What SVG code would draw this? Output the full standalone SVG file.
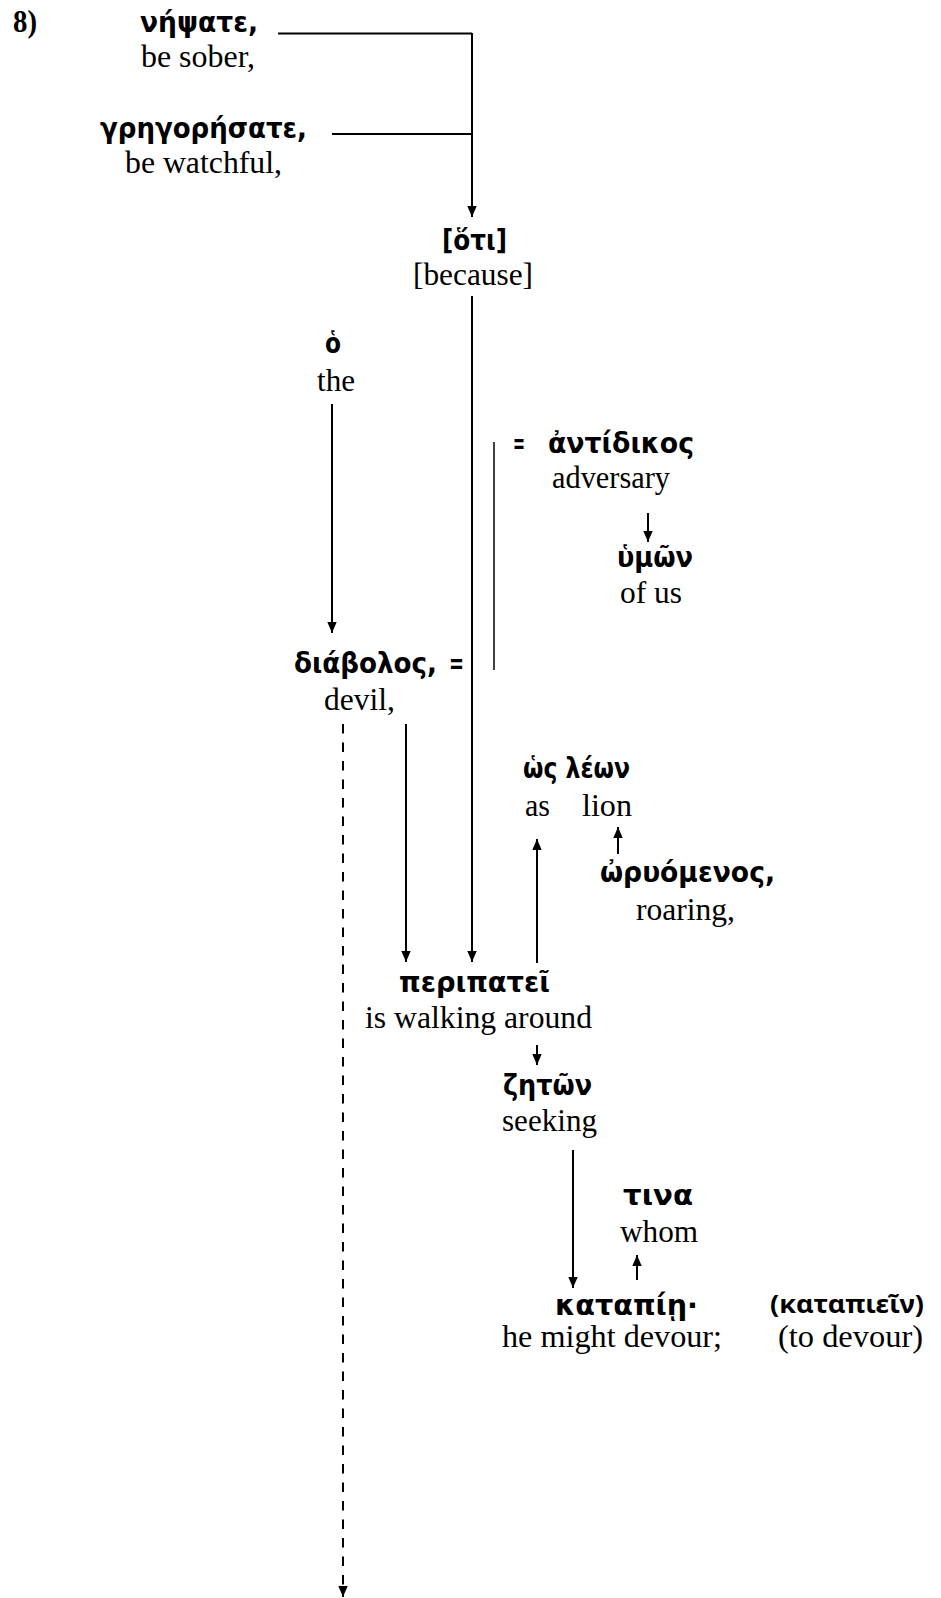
<svg xmlns="http://www.w3.org/2000/svg" width="941" height="1598" viewBox="0 0 941 1598">
<style>
.g{font-family:"DejaVu Sans","Noto Sans",sans-serif;font-weight:bold;font-size:28px;fill:#000}
.n{font-family:"Noto Sans","DejaVu Sans",sans-serif;font-weight:bold;font-size:25px;fill:#000}
.e{font-family:"Liberation Serif","Times New Roman",serif;font-size:31px;fill:#000}
.b{font-family:"Liberation Serif","Times New Roman",serif;font-size:31px;font-weight:bold;fill:#000}
.l{stroke:#000;stroke-width:2;fill:none}
.t{stroke:#000;stroke-width:1.5;fill:none}
.a{marker-end:url(#ah)}
.d{stroke-dasharray:9.5 9}
</style>
<defs>
<marker id="ah" markerUnits="userSpaceOnUse" markerWidth="11" markerHeight="11" viewBox="0 0 11 11" refX="11" refY="5.5" orient="auto"><path d="M0,0.8 L11,5.5 L0,10.2 z" fill="#000"/></marker>
</defs>
<rect width="941" height="1598" fill="#fff"/>
<g id="label8"><text class="b" x="13" y="32" textLength="24" lengthAdjust="spacingAndGlyphs">8)</text></g>
<g id="n-nepsate"><text class="g" x="140" y="32" textLength="118" lengthAdjust="spacingAndGlyphs">νήψατε,</text><text class="e" x="141" y="67" textLength="114" lengthAdjust="spacingAndGlyphs">be sober,</text></g>
<g id="n-gregoresate"><text class="g" x="100" y="138" textLength="207" lengthAdjust="spacingAndGlyphs">γρηγορήσατε,</text><text class="e" x="125" y="173" textLength="157" lengthAdjust="spacingAndGlyphs">be watchful,</text></g>
<g id="n-hoti"><text class="g" x="442" y="250" textLength="65" lengthAdjust="spacingAndGlyphs">[ὅτι]</text><text class="e" x="413" y="285" textLength="120" lengthAdjust="spacingAndGlyphs">[because]</text></g>
<g id="n-ho"><text class="g" x="325" y="353" textLength="16" lengthAdjust="spacingAndGlyphs">ὁ</text><text class="e" x="317" y="391" textLength="38" lengthAdjust="spacingAndGlyphs">the</text></g>
<g id="n-antidikos"><text class="g" x="513" y="453" textLength="12" lengthAdjust="spacingAndGlyphs">=</text><text class="g" x="548" y="453" textLength="146" lengthAdjust="spacingAndGlyphs">ἀντίδικος</text><text class="e" x="552" y="488" textLength="118" lengthAdjust="spacingAndGlyphs">adversary</text></g>
<g id="n-hymon"><text class="g" x="617" y="567" textLength="76" lengthAdjust="spacingAndGlyphs">ὑμῶν</text><text class="e" x="620" y="603" textLength="62" lengthAdjust="spacingAndGlyphs">of us</text></g>
<g id="n-diabolos"><text class="g" x="294" y="673" textLength="143" lengthAdjust="spacingAndGlyphs">διάβολος,</text><text class="g" x="449" y="673" textLength="15" lengthAdjust="spacingAndGlyphs">=</text><text class="e" x="324" y="710" textLength="71" lengthAdjust="spacingAndGlyphs">devil,</text></g>
<g id="n-hos-leon"><text class="g" x="523" y="778" textLength="107" lengthAdjust="spacingAndGlyphs">ὡς λέων</text><text class="e" x="525" y="816" textLength="25" lengthAdjust="spacingAndGlyphs">as</text><text class="e" x="582" y="816" textLength="50" lengthAdjust="spacingAndGlyphs">lion</text></g>
<g id="n-oryomenos"><text class="g" x="600" y="882" textLength="175" lengthAdjust="spacingAndGlyphs">ὠρυόμενος,</text><text class="e" x="636" y="920" textLength="99" lengthAdjust="spacingAndGlyphs">roaring,</text></g>
<g id="n-peripatei"><text class="g" x="399" y="992" textLength="151" lengthAdjust="spacingAndGlyphs">περιπατεῖ</text><text class="e" x="365" y="1028" textLength="227" lengthAdjust="spacingAndGlyphs">is walking around</text></g>
<g id="n-zeton"><text class="g" x="503" y="1095" textLength="89" lengthAdjust="spacingAndGlyphs">ζητῶν</text><text class="e" x="502" y="1131" textLength="95" lengthAdjust="spacingAndGlyphs">seeking</text></g>
<g id="n-tina"><text class="g" x="623" y="1205" textLength="70" lengthAdjust="spacingAndGlyphs">τινα</text><text class="e" x="620" y="1242" textLength="78" lengthAdjust="spacingAndGlyphs">whom</text></g>
<g id="n-katapie"><text class="g" x="555" y="1315" textLength="143" lengthAdjust="spacingAndGlyphs">καταπίῃ·</text><text class="e" x="502" y="1347" textLength="220" lengthAdjust="spacingAndGlyphs">he might devour;</text></g>
<g id="n-katapiein"><text class="n" x="770" y="1313" textLength="154" lengthAdjust="spacingAndGlyphs">(καταπιεῖν)</text><text class="e" x="778" y="1347" textLength="145" lengthAdjust="spacingAndGlyphs">(to devour)</text></g>
<g id="connectors">
<line class="l" x1="278" y1="33.5" x2="472" y2="33.5"/>
<line class="l" x1="332" y1="134" x2="472" y2="134"/>
<line class="l a" x1="472" y1="33" x2="472" y2="217"/>
<line class="l a" x1="472" y1="296" x2="472" y2="962"/>
<line class="l a" x1="332" y1="404" x2="332" y2="633"/>
<line class="t" x1="494" y1="442" x2="494" y2="670"/>
<line class="l a" x1="648" y1="513" x2="648" y2="542"/>
<line class="l a" x1="406" y1="724" x2="406" y2="962"/>
<line class="l d" x1="343" y1="724" x2="343" y2="1588"/>
<line class="l a" x1="343" y1="1586" x2="343" y2="1597"/>
<line class="l a" x1="537" y1="963" x2="537" y2="839"/>
<line class="l a" x1="618" y1="854" x2="618" y2="827"/>
<line class="l a" x1="537" y1="1045" x2="537" y2="1065"/>
<line class="l a" x1="573" y1="1150" x2="573" y2="1288"/>
<line class="l a" x1="637" y1="1280" x2="637" y2="1255"/>
</g>
</svg>
